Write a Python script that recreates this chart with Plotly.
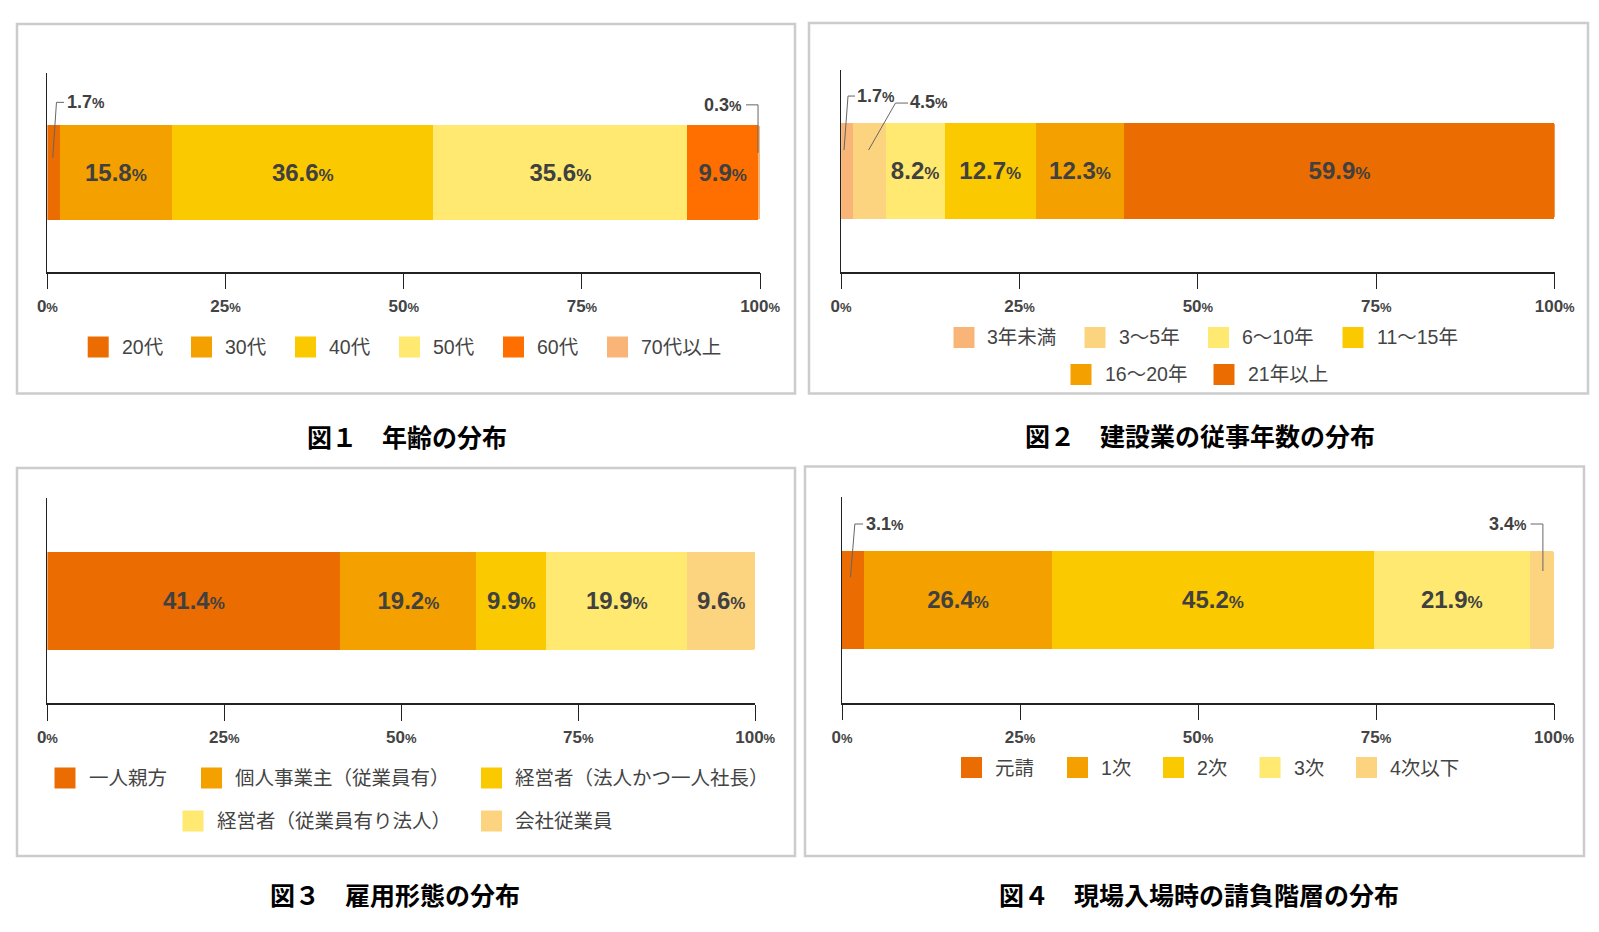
import plotly.graph_objects as go

W, H = 1599, 932

# ---- data (percent) ----
age_labels = ["20代", "30代", "40代", "50代", "60代", "70代以上"]
age_values = [1.7, 15.8, 36.6, 35.6, 9.9, 0.3]

years_labels = ["3年未満", "3～5年", "6～10年", "11～15年", "16～20年", "21年以上"]
years_values = [1.7, 4.5, 8.2, 12.7, 12.3, 59.9]

job_labels = ["一人親方", "個人事業主（従業員有）", "経営者（法人かつ一人社長）",
              "経営者（従業員有り法人）", "会社従業員"]
job_values = [41.4, 19.2, 9.9, 19.9, 9.6]

tier_labels = ["元請", "1次", "2次", "3次", "4次以下"]
tier_values = [3.1, 26.4, 45.2, 21.9, 3.4]

x_ticks = [0, 25, 50, 75, 100]

titles = ["図１　年齢の分布", "図２　建設業の従事年数の分布",
          "図３　雇用形態の分布", "図４　現場入場時の請負階層の分布"]

# ---- styles ----
DK = "#EB6C00"
OR = "#F4A100"
YL = "#FBC900"
LY = "#FFE970"
RD = "#FF6F00"
SA = "#F8B577"
PE = "#FCD480"

NUM_FONT = "Liberation Sans, Arial, sans-serif"
JP_FONT = "Noto Sans CJK JP, sans-serif"
LEG_FONT = "Liberation Sans, Noto Sans CJK JP, sans-serif"

# panel layout in pixels: plot box (x0, x100, ytop, ybottom), frame box,
# title centre, legend rows [(y, [swatch lefts])], callouts for small segments
panels = [
    dict(labels=age_labels, values=age_values,
         colors=[DK, OR, YL, LY, RD, SA],
         plot=(47.4, 760.1, 73, 271.7), frame=(17, 24, 795, 393.5),
         title=(407, 435.5),
         legend=[(347, [87.7, 191, 295, 399, 503, 607])],
         callouts=[[(-0.7, -14.5), (3, -70), (10.5, -70), 11.5, -70.5],
                   [(-1, -19.5), (-1, -67.5), (-13, -67.5), -15, -67.5]]),
    dict(labels=years_labels, values=years_values,
         colors=[SA, PE, LY, YL, OR, DK],
         plot=(841.1, 1554.7, 70, 271.7), frame=(809, 23, 1588, 393.5),
         title=(1199.5, 435),
         legend=[(337.5, [953.5, 1084.5, 1208, 1342.5]),
                 (374.5, [1070.5, 1213.5])],
         callouts=[[(-3.2, -20.8), (0.8, -74.8), (7.8, -74.8), 8, -74.8],
                   [(-0.9, -20.8), (26, -67.8), (38.5, -67.8), 38.5, -69]]),
    dict(labels=job_labels, values=job_values,
         colors=[DK, OR, YL, LY, PE],
         plot=(47.4, 755.2, 498, 703.3), frame=(17, 468, 795, 856),
         title=(395, 893.5),
         legend=[(778, [54.5, 201, 481]), (821, [182.5, 481])],
         callouts=[]),
    dict(labels=tier_labels, values=tier_values,
         colors=[DK, OR, YL, LY, PE],
         plot=(842, 1554, 497.3, 702.7), frame=(805, 466.5, 1584, 856),
         title=(1199, 893.5),
         legend=[(767.5, [961, 1067, 1163, 1259.5, 1356])],
         callouts=[[(-2.6, -22.7), (1.8, -76), (10, -76), 10.5, -75.7],
                   [(1, -29), (1, -76), (-11.3, -76), -12.5, -76]]),
]


def pct(v, small):
    return f"{v}<span style='font-size:{small}px'>%</span>"


fig = go.Figure()
shapes = []
annotations = []
layout = {}

for i, p in enumerate(panels):
    n = "" if i == 0 else str(i + 1)
    xl, xr, yt, yb = p["plot"]
    kx = (xr - xl) / 100.0
    ky = (yb - yt) / 1.0
    total = sum(p["values"])

    # bars
    for lab, v, c in zip(p["labels"], p["values"], p["colors"]):
        fig.add_trace(go.Bar(
            x=[v], y=[0], orientation="h", name=lab, width=0.478,
            marker=dict(color=c, line=dict(width=0)),
            text=[pct(v, 17) if v >= 5 else ""],
            textposition="inside", insidetextanchor="middle", textangle=0,
            textfont=dict(family=NUM_FONT, size=24, color="#404040", weight="bold"),
            xaxis="x" + n, yaxis="y" + n, showlegend=False, hoverinfo="skip",
        ))

    layout["xaxis" + n] = dict(
        domain=[xl / W, xr / W], range=[0, 100], anchor="y" + n,
        tickvals=x_ticks, ticktext=[pct(t, 13) for t in x_ticks],
        tickfont=dict(family=NUM_FONT, size=17, color="#444", weight="bold"),
        showgrid=False, zeroline=False, showline=True, linecolor="#222",
        linewidth=1.5, ticks="outside", ticklen=16, tickcolor="#222",
        tickwidth=1, ticklabelstandoff=2, fixedrange=True, automargin=False,
    )
    layout["yaxis" + n] = dict(
        domain=[1 - yb / H, 1 - yt / H], range=[-0.5, 0.5], anchor="x" + n,
        showline=True, linecolor="#222", linewidth=1, showticklabels=False,
        ticks="", showgrid=False, zeroline=False, fixedrange=True,
        automargin=False,
    )

    # callouts for the small segments
    cum = 0.0
    k = 0
    for v in p["values"]:
        c = (cum + v / 2.0) / total * 100.0
        cum += v
        if v >= 5:
            continue
        pts, tdx, tdy = p["callouts"][k][:3], p["callouts"][k][3], p["callouts"][k][4]
        k += 1
        path = "M " + " L ".join(
            f"{c + dx / kx},{-dy / ky}" for dx, dy in pts)
        shapes.append(dict(type="path", path=path, xref="x" + n, yref="y" + n,
                           line=dict(color="#666", width=1)))
        annotations.append(dict(
            x=c + tdx / kx, y=-tdy / ky, xref="x" + n, yref="y" + n,
            text=pct(v, 14), showarrow=False,
            xanchor="left" if tdx > 0 else "right", yanchor="middle",
            font=dict(family=NUM_FONT, size=18, color="#404040", weight="bold"),
        ))

    # frame
    fx0, fy0, fx1, fy1 = p["frame"]
    shapes.append(dict(type="rect", xref="paper", yref="paper", layer="below",
                       x0=fx0 / W, x1=fx1 / W, y0=1 - fy1 / H, y1=1 - fy0 / H,
                       line=dict(color="#CCCCCC", width=2.5)))

    # legend (manual, large swatches)
    j = 0
    for ly, lefts in p["legend"]:
        for lx in lefts:
            shapes.append(dict(type="rect", xref="paper", yref="paper",
                               x0=lx / W, x1=(lx + 21) / W,
                               y0=1 - (ly + 10.5) / H, y1=1 - (ly - 10.5) / H,
                               fillcolor=p["colors"][j], line=dict(width=0)))
            annotations.append(dict(
                x=(lx + 32) / W, y=1 - ly / H, xref="paper", yref="paper",
                text=p["labels"][j], showarrow=False, xanchor="left",
                yanchor="middle",
                font=dict(family=LEG_FONT, size=19.5, color="#444"),
            ))
            j += 1

    # title
    tx, ty = p["title"]
    annotations.append(dict(
        x=tx / W, y=1 - ty / H, xref="paper", yref="paper", text=titles[i],
        showarrow=False, xanchor="center", yanchor="middle",
        font=dict(family=JP_FONT, size=25, color="#000", weight="bold"),
    ))

fig.update_layout(
    width=W, height=H,
    margin=dict(l=0, r=0, t=0, b=0, pad=0, autoexpand=False),
    paper_bgcolor="white", plot_bgcolor="white",
    barmode="stack", barnorm="percent", barcornerradius=3,
    showlegend=False, shapes=shapes, annotations=annotations,
    **layout,
)

fig.write_html("out.html",
               config={"displayModeBar": False, "responsive": False},
               post_script="document.body.style.margin='0px';"
                           "document.body.style.overflow='hidden';")
